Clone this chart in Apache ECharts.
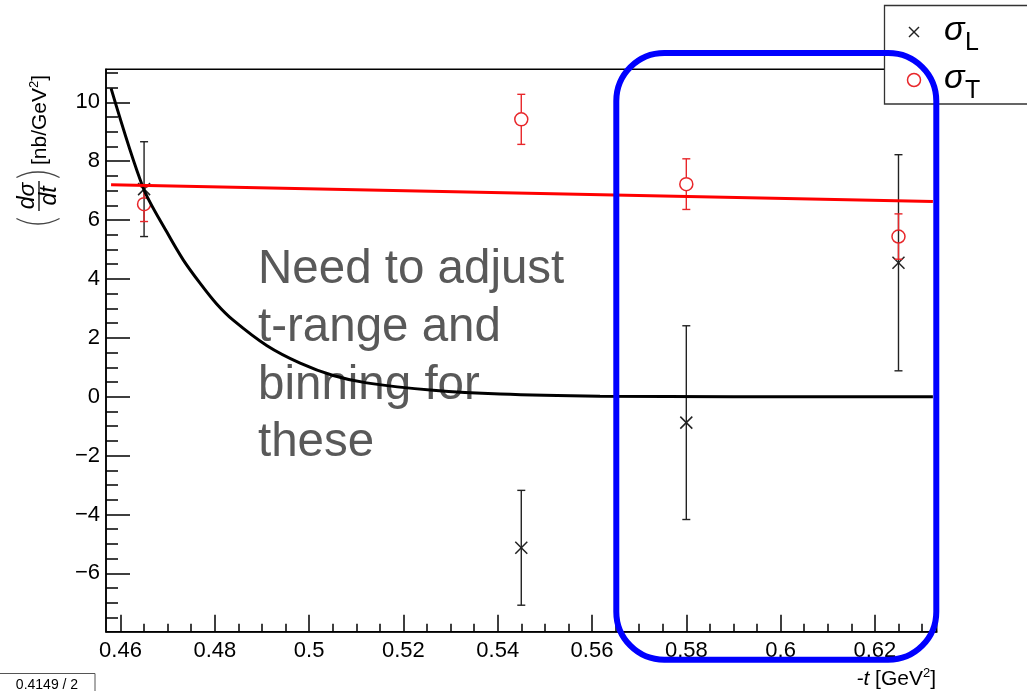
<!DOCTYPE html>
<html>
<head>
<meta charset="utf-8">
<script src="https://cdn.jsdelivr.net/npm/echarts@6/dist/echarts.min.js"></script>
<style>
  html, body { margin: 0; padding: 0; background: #fff; }
  #main { width: 1027px; height: 691px; }
</style>
</head>
<body>
<div id="main"></div>
<script>
// tick labels
var xTicks = [0.46, 0.48, 0.5, 0.52, 0.54, 0.56, 0.58, 0.6, 0.62];
var yTicks = [-6, -4, -2, 0, 2, 4, 6, 8, 10];

// sigma_L points (black x)
var tL = [0.465, 0.545, 0.58, 0.625];
var sigL = [7.05, -5.13, -0.88, 4.55];
var errL = [1.61, 1.95, 3.29, 3.67];

// sigma_T points (red circles)
var tT = [0.465, 0.545, 0.58, 0.625];
var sigT = [6.54, 9.42, 7.22, 5.44];
var errT = [0.59, 0.85, 0.86, 0.77];

// fit to sigma_T (straight line)
var fitTx = [0.458, 0.6323];
var fitTy = [7.20, 6.63];

// fit to sigma_L
var fitLx = [0.458, 0.4648, 0.4698, 0.4733, 0.4769, 0.4804, 0.4839, 0.491, 0.4981, 0.5051, 0.5122, 0.5263, 0.5405, 0.5617, 0.59, 0.6323];
var fitLy = [10.47, 7.1, 5.6, 4.65, 3.85, 3.15, 2.6, 1.74, 1.14, 0.72, 0.47, 0.22, 0.09, 0.02, 0.0, 0.0];

var xMin = 0.456925, xMax = 0.633105;
var yMin = -7.98, yMax = 11.12;

// minor tick positions
var xMinor = [];
for (var i = 0; i <= 34; i++) xMinor.push(+(0.46 + 0.005 * i).toFixed(3));
var yMinor = [];
for (var j = -15; j <= 22; j++) yMinor.push(j * 0.5);

var FONT = 'Liberation Sans, Arial, sans-serif';

function zip3(a, b, c) {
  var out = [];
  for (var i = 0; i < a.length; i++) out.push([a[i], b[i], c[i]]);
  return out;
}
function zip2(a, b) {
  var out = [];
  for (var i = 0; i < a.length; i++) out.push([a[i], b[i]]);
  return out;
}

function errorBars(color, marker) {
  return function (params, api) {
    var x = api.value(0), y = api.value(1), e = api.value(2);
    var c = api.coord([x, y]);
    var top = api.coord([x, y + e]);
    var bot = api.coord([x, y - e]);
    var st = { stroke: color, lineWidth: 1.4 };
    var kids = [];
    var cap = 4;
    if (marker === 'circle') {
      var r = 6.5;
      kids.push({ type: 'line', shape: { x1: c[0], y1: top[1], x2: c[0], y2: c[1] - r }, style: st });
      kids.push({ type: 'line', shape: { x1: c[0], y1: c[1] + r, x2: c[0], y2: bot[1] }, style: st });
      kids.push({ type: 'circle', shape: { cx: c[0], cy: c[1], r: r }, style: { fill: 'none', stroke: color, lineWidth: 1.5 } });
    } else {
      var h = 6;
      kids.push({ type: 'line', shape: { x1: c[0], y1: top[1], x2: c[0], y2: bot[1] }, style: st });
      kids.push({ type: 'line', shape: { x1: c[0] - h, y1: c[1] - h, x2: c[0] + h, y2: c[1] + h }, style: { stroke: color, lineWidth: 1.5 } });
      kids.push({ type: 'line', shape: { x1: c[0] - h, y1: c[1] + h, x2: c[0] + h, y2: c[1] - h }, style: { stroke: color, lineWidth: 1.5 } });
    }
    kids.push({ type: 'line', shape: { x1: c[0] - cap, y1: top[1], x2: c[0] + cap, y2: top[1] }, style: st });
    kids.push({ type: 'line', shape: { x1: c[0] - cap, y1: bot[1], x2: c[0] + cap, y2: bot[1] }, style: st });
    return { type: 'group', children: kids };
  };
}

var myChart = echarts.init(document.getElementById('main'));

var axisBlack = { color: '#000', width: 1.5 };

var option = {
  animation: false,
  backgroundColor: '#fff',
  grid: {
    left: 106, top: 69.3, width: 830.7, height: 562.4,
    show: true, borderColor: '#000', borderWidth: 1.5, backgroundColor: 'transparent'
  },
  xAxis: [{
    type: 'value', min: xMin, max: xMax, position: 'bottom',
    axisLine: { onZero: false, lineStyle: axisBlack },
    axisTick: { inside: true, length: 17, customValues: xTicks, lineStyle: axisBlack },
    axisLabel: { customValues: xTicks, margin: 8, fontSize: 22, color: '#000', fontFamily: FONT },
    splitLine: { show: false }
  }, {
    type: 'value', min: xMin, max: xMax, position: 'bottom',
    axisLine: { show: false, onZero: false },
    axisTick: { inside: true, length: 8, customValues: xMinor, lineStyle: axisBlack },
    axisLabel: { show: false },
    splitLine: { show: false }
  }],
  yAxis: [{
    type: 'value', min: yMin, max: yMax, position: 'left',
    axisLine: { onZero: false, lineStyle: axisBlack },
    axisTick: { inside: true, length: 24, customValues: yTicks, lineStyle: axisBlack },
    axisLabel: {
      customValues: yTicks, margin: 6, fontSize: 22, color: '#000', fontFamily: FONT,
      formatter: function (v) { return v < 0 ? '\u2212' + Math.abs(v) : String(v); }
    },
    splitLine: { show: false }
  }, {
    type: 'value', min: yMin, max: yMax, position: 'left',
    axisLine: { show: false, onZero: false },
    axisTick: { inside: true, length: 12, customValues: yMinor, lineStyle: axisBlack },
    axisLabel: { show: false },
    splitLine: { show: false }
  }],
  series: [{
    name: 'sigmaL', type: 'custom', xAxisIndex: 0, yAxisIndex: 0,
    renderItem: errorBars('#222', 'cross'),
    data: zip3(tL, sigL, errL), z: 3
  }, {
    name: 'sigmaT', type: 'custom', xAxisIndex: 0, yAxisIndex: 0,
    renderItem: errorBars('#e8262a', 'circle'),
    data: zip3(tT, sigT, errT), z: 3
  }, {
    name: 'fitL', type: 'line', xAxisIndex: 0, yAxisIndex: 0,
    data: zip2(fitLx, fitLy), smooth: 0.3,
    showSymbol: false, symbol: 'none',
    lineStyle: { color: '#000', width: 3 }, z: 4
  }, {
    name: 'fitT', type: 'line', xAxisIndex: 0, yAxisIndex: 0,
    data: zip2(fitTx, fitTy), showSymbol: false, symbol: 'none',
    lineStyle: { color: '#ff0000', width: 3 }, z: 4
  }],
  graphic: [
    // y-axis title
    {
      type: 'group', x: 38, y: 229, rotation: Math.PI / 2, z: 5,
      children: [
        { type: 'arc', shape: { cx: 50, cy: 0, r: 45, startAngle: Math.PI - 0.5, endAngle: Math.PI + 0.5 }, style: { stroke: '#444', lineWidth: 1.3, fill: 'none' } },
        { type: 'text', x: 33, y: -10, style: { text: 'd\u03c3', font: 'italic 23px ' + FONT, fill: '#000', align: 'center', verticalAlign: 'middle' } },
        { type: 'line', shape: { x1: 18, y1: 1, x2: 48, y2: 1 }, style: { stroke: '#000', lineWidth: 1.3 } },
        { type: 'text', x: 33, y: 12, style: { text: 'dt', font: 'italic 23px ' + FONT, fill: '#000', align: 'center', verticalAlign: 'middle' } },
        { type: 'arc', shape: { cx: 12, cy: 0, r: 45, startAngle: -0.5, endAngle: 0.5 }, style: { stroke: '#444', lineWidth: 1.3, fill: 'none' } },
        {
          type: 'text', x: 64, y: 2,
          style: {
            text: '[nb/GeV{s|2}]', font: '21px ' + FONT, fill: '#000', align: 'left', verticalAlign: 'middle',
            rich: { s: { fontSize: 13, fontFamily: FONT, padding: [0, 0, 12, 0] } }
          }
        }
      ]
    },
    // x-axis title
    {
      type: 'text', x: 936, y: 679, z: 5,
      style: {
        text: '{i|-t} [GeV{s|2}]', font: '21px ' + FONT, fill: '#000', align: 'right', verticalAlign: 'middle',
        rich: { i: { fontStyle: 'italic', fontSize: 21, fontFamily: FONT }, s: { fontSize: 13, fontFamily: FONT, padding: [0, 0, 12, 0] } }
      }
    },
    // annotation
    { type: 'text', x: 258, y: 270, z: 1, style: { text: 'Need to adjust', font: '47.5px ' + FONT, fill: '#595959', verticalAlign: 'middle' } },
    { type: 'text', x: 258, y: 328, z: 1, style: { text: 't-range and', font: '47.5px ' + FONT, fill: '#595959', verticalAlign: 'middle' } },
    { type: 'text', x: 258, y: 386, z: 1, style: { text: 'binning for', font: '47.5px ' + FONT, fill: '#595959', verticalAlign: 'middle' } },
    { type: 'text', x: 258, y: 443, z: 1, style: { text: 'these', font: '47.5px ' + FONT, fill: '#595959', verticalAlign: 'middle' } },
    // legend box
    { type: 'rect', z: 10, shape: { x: 884.5, y: 5.5, width: 160, height: 98.5 }, style: { fill: '#fff', stroke: '#333', lineWidth: 1.3 } },
    { type: 'line', z: 11, shape: { x1: 909, y1: 27, x2: 919, y2: 37 }, style: { stroke: '#222', lineWidth: 1.4 } },
    { type: 'line', z: 11, shape: { x1: 909, y1: 37, x2: 919, y2: 27 }, style: { stroke: '#222', lineWidth: 1.4 } },
    { type: 'text', z: 11, x: 944, y: 31, style: { text: '\u03c3', font: 'italic 34px ' + FONT, fill: '#000', verticalAlign: 'middle' } },
    { type: 'text', z: 11, x: 965, y: 43, style: { text: 'L', font: '25px ' + FONT, fill: '#000', verticalAlign: 'middle' } },
    { type: 'circle', z: 11, shape: { cx: 914, cy: 80, r: 6.5 }, style: { fill: 'none', stroke: '#e8262a', lineWidth: 1.5 } },
    { type: 'text', z: 11, x: 944, y: 79, style: { text: '\u03c3', font: 'italic 34px ' + FONT, fill: '#000', verticalAlign: 'middle' } },
    { type: 'text', z: 11, x: 965, y: 91, style: { text: 'T', font: '25px ' + FONT, fill: '#000', verticalAlign: 'middle' } },
    // chi2 box
    { type: 'rect', z: 10, shape: { x: -1, y: 673.5, width: 96, height: 22 }, style: { fill: '#fff', stroke: '#555', lineWidth: 1 } },
    { type: 'text', z: 11, x: 47, y: 685, style: { text: '0.4149 / 2', font: '14px ' + FONT, fill: '#000', align: 'center', verticalAlign: 'middle' } },
    // highlight box
    { type: 'rect', z: 100, shape: { x: 616.3, y: 53, width: 320, height: 606.7, r: 48 }, style: { fill: 'none', stroke: '#0000ff', lineWidth: 6 } }
  ]
};

myChart.setOption(option);
</script>
</body>
</html>
